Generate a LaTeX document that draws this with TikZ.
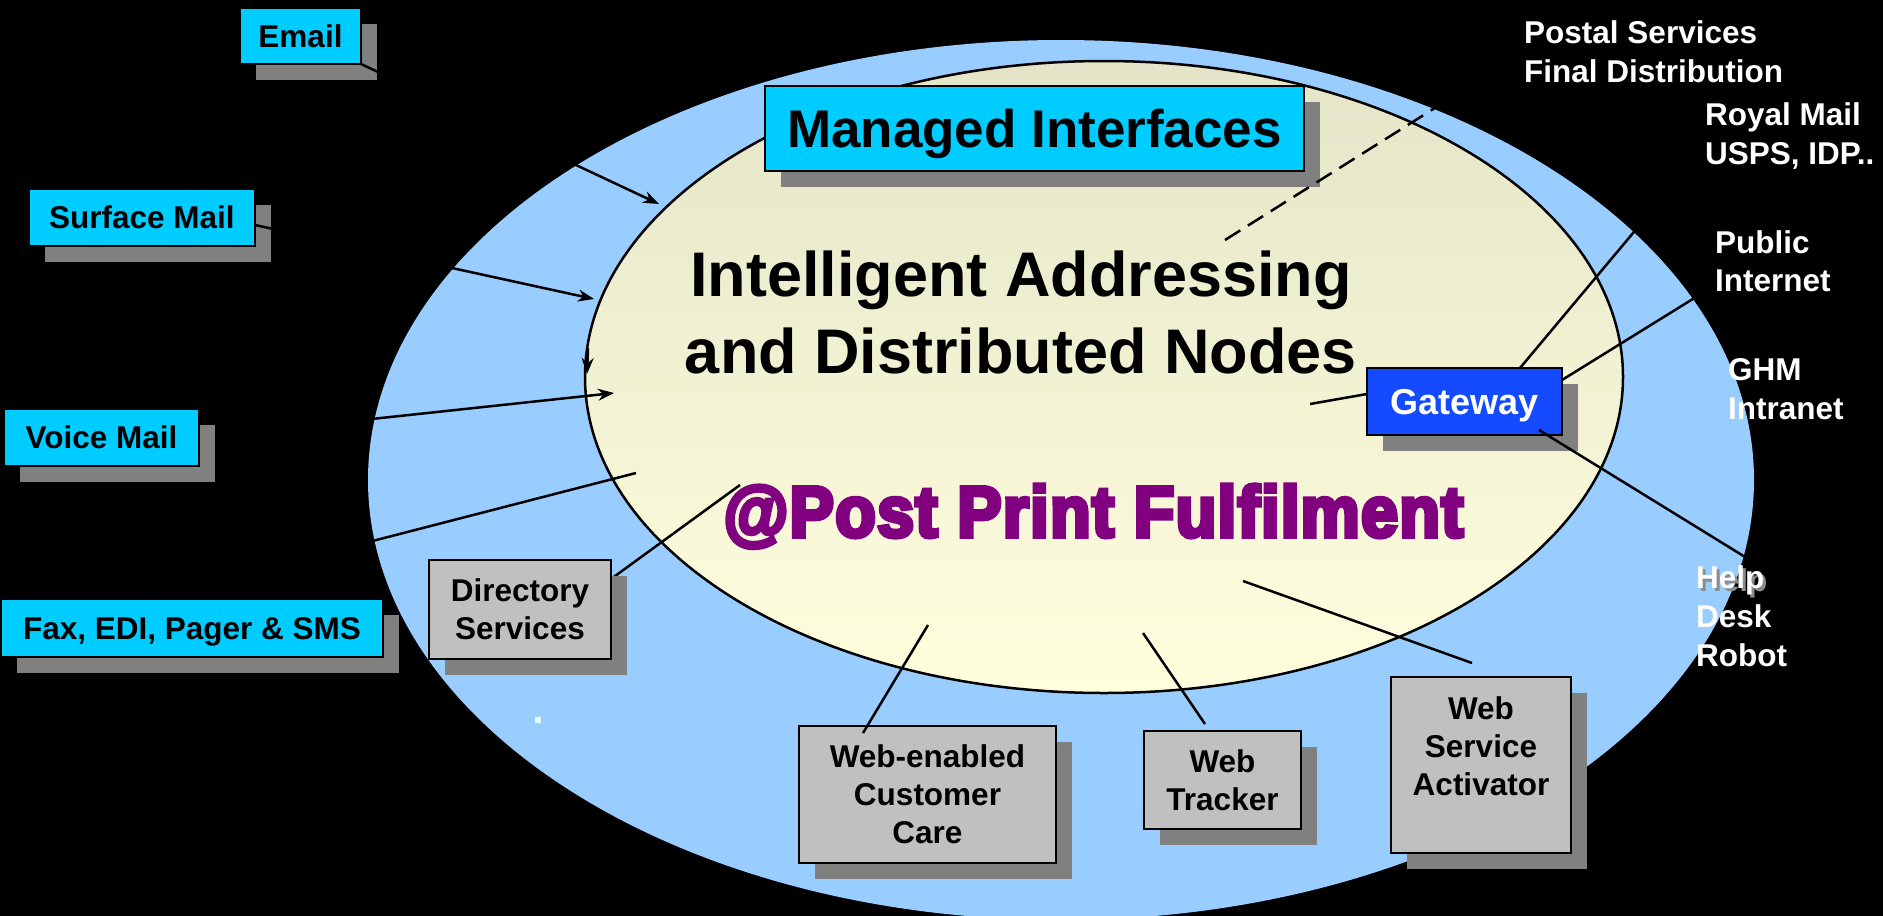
\documentclass[tikz,border=0pt]{standalone}
\usepackage{fontspec}
\setmainfont{Liberation Sans}
\newfontfamily\heavyfont{Liberation Sans}[UprightFont={* Bold}, FakeBold=6, FakeStretch=0.92, LetterSpace=2]
\usetikzlibrary{arrows.meta,calc,shadows}

\definecolor{skyring}{HTML}{99CCFF}
\definecolor{cyanfill}{HTML}{00CCFF}
\definecolor{boxgray}{HTML}{C0C0C0}
\definecolor{shadowgray}{HTML}{808080}
\definecolor{gateblue}{HTML}{144BFF}
\definecolor{coretop}{HTML}{E4E4C8}
\definecolor{corebottom}{HTML}{FFFFDE}
\definecolor{plum}{HTML}{800080}
\definecolor{speck}{HTML}{E0FFFF}
\definecolor{haze}{HTML}{8C8C8C}

\pgfdeclarelayer{ground}
\pgfdeclarelayer{under}
\pgfdeclarelayer{front}
\pgfsetlayers{ground,under,main,front}

\tikzset{
  boxbase/.style={draw=black, line width=2.5bp, inner sep=0pt, outer sep=0pt, align=center,
    drop shadow={shadow xshift=16bp, shadow yshift=-16bp, fill=shadowgray, opacity=1},
    font=\fontsize{31.5bp}{38bp}\selectfont\bfseries},
  chanbox/.style={boxbase, fill=cyanfill, text height=22.6bp, text depth=0pt},
  svcbox/.style={boxbase, fill=boxgray},
  link/.style={line width=2.5bp, black},
  arrowlink/.style={link, -{Stealth[length=16bp, width=12bp]}},
  whitelabel/.style={text=white, inner sep=0pt, anchor=north west, align=left,
    font=\fontsize{31.5bp}{38.8bp}\selectfont\bfseries},
}

\begin{document}
\begin{tikzpicture}[x=1bp, y=-1bp]
\useasboundingbox (0,0) rectangle (1883,916);

% backdrop, outer ring and core ellipse
\begin{pgfonlayer}{ground}
  \fill[black] (0,0) rectangle (1883,916);
  \fill[skyring] (1061,480) ellipse [x radius=693, y radius=440];
  \shade[top color=coretop, bottom color=corebottom] (1104,377) ellipse [x radius=519, y radius=316];
  \draw[line width=2.5bp] (1104,377) ellipse [x radius=519, y radius=316];
  \fill[speck] (535,717) rectangle (541,723);
\end{pgfonlayer}

% incoming channels
\node[chanbox, minimum width=121bp, minimum height=56bp] (email) at (300.5,36) {Email};
\node[chanbox, minimum width=226bp, minimum height=57bp] (surf) at (142,217.5) {Surface Mail};
\node[chanbox, minimum width=195bp, minimum height=57bp] (voice) at (101.5,437.5) {Voice Mail};
\node[chanbox, minimum width=382bp, minimum height=58bp] (fax) at (192,628) {Fax, EDI, Pager \& SMS};

% interface banner
\node[chanbox, minimum width=539bp, minimum height=85bp, text height=37.9bp,
      font=\fontsize{53bp}{60bp}\selectfont\bfseries] (managed) at (1034.5,128.5) {Managed Interfaces};

% core titles
\node[inner sep=0pt, align=center, font=\fontsize{63bp}{77bp}\selectfont\bfseries] (core) at (1021,312)
  {Intelligent Addressing\\and Distributed Nodes};
\node[inner sep=0pt, anchor=base, text=plum, font=\fontsize{72bp}{80bp}\heavyfont] (print) at (1093.5,536.7)
  {@Post Print Fulfilment};

% gateway
\node[boxbase, fill=gateblue, text=white, minimum width=195bp, minimum height=67bp,
      text height=25.8bp, text depth=0pt, font=\fontsize{36bp}{40bp}\selectfont\bfseries] (gw) at (1464.5,401.5) {Gateway};

% services
\node[svcbox, minimum width=182bp, minimum height=99bp] (dir) at (520,609.5) {Directory\\Services};
\node[svcbox, minimum width=257bp, minimum height=137bp] (wecc) at (927.5,794.5) {Web-enabled\\Customer\\Care};
\node[svcbox, minimum width=157bp, minimum height=98bp] (wt) at (1222.5,780) {Web\\Tracker};
\node[svcbox, minimum width=180bp, minimum height=176bp] (wsa) at (1481,765) {Web\\Service\\Activator\\\mbox{}};

% outside destinations
\begin{pgfonlayer}{front}
  \node[whitelabel] (postal) at (1524,20.7) {Postal Services\\Final Distribution};
  \node[whitelabel] (royal) at (1705,102.4) {Royal Mail\\USPS, IDP..};
  \node[whitelabel] (public) at (1715,230) {Public\\Internet};
  \node[whitelabel] (ghm) at (1728,358) {GHM\\Intranet};
  \node[whitelabel] (help) at (1696,565.5)
    {\rlap{\kern3bp\raisebox{-3bp}{\textcolor{haze}{Help}}}Help\\Desk\\Robot};
\end{pgfonlayer}

% inner and outer free ends
\coordinate (emailIn) at (659,204);
\coordinate (surfIn) at (594,299);
\coordinate (voiceIn) at (614,393);
\coordinate (faxIn) at (636,473);
\coordinate (dirIn) at (740,485);
\coordinate (weccIn) at (928,625);
\coordinate (wtIn) at (1143,633);
\coordinate (wsaIn) at (1243,581);
\coordinate (gwIn) at (1310,404);
\coordinate (postIn) at (1225,240);
\coordinate (postOut) at (1473,84);
\coordinate (royalOut) at (1690,165);
\coordinate (publicOut) at (1717,284);
\coordinate (helpOut) at (1750,560);
\coordinate (rimTop) at (588,348);
\coordinate (rimTip) at (587,374);

% channel feeds
\draw[arrowlink] (email.south east) -- (emailIn);
\draw[arrowlink] ($(surf.east)+(0,7.5)$) -- (surfIn);
\begin{pgfonlayer}{under}
  \draw[arrowlink] (voice.east) -- (voiceIn);
  \draw[link] ($(dir.north east)+(0,19)$) -- (dirIn);
\end{pgfonlayer}
\draw[arrowlink] (rimTop) -- (rimTip);
\draw[link] ($(fax.north west)!0.384!(fax.north east)$) -- (faxIn);

% postal hand-off
\draw[link, dash pattern=on 18bp off 9bp] (postIn) -- (postOut);

% service links
\draw[link] ($(wecc.north west)+(64,7)$) -- (weccIn);
\draw[link] ($(wt.north west)+(61,-7)$) -- (wtIn);
\draw[link] ($(wsa.north)+(-9,-14)$) -- (wsaIn);

% gateway links
\draw[link] ($(gw.west)+(0,-7.5)$) -- (gwIn);
\draw[link] ($(gw.north east)+(-42,0)$) -- (royalOut);
\draw[link] ($(gw.north east)+(0,12)$) -- (publicOut);
\draw[link] ($(gw.east)+(0,1.5)$) -- ($(gw.east)+(0,1.5)$ -| ghm.west);
\draw[link] ($(gw.south east)+(-23,-5)$) -- (helpOut);
\end{tikzpicture}
\end{document}
